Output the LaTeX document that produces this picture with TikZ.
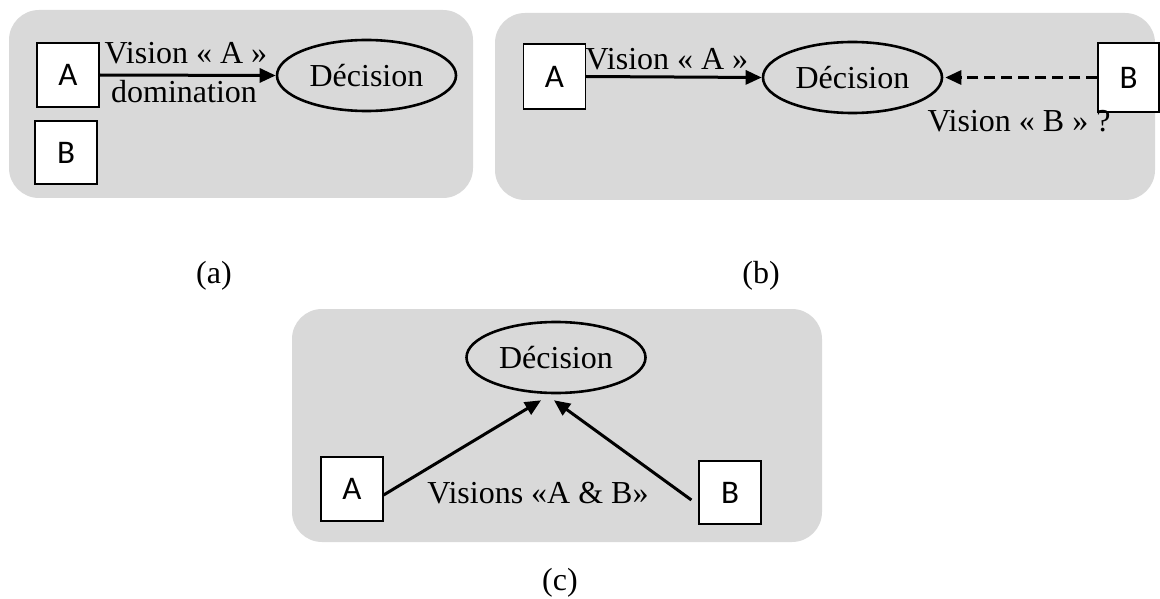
\documentclass[tikz,border=0pt]{standalone}
\usepackage{fontspec}
\setmainfont{Liberation Serif}
\newfontfamily\boxfont{Carlito}
\usetikzlibrary{shapes.geometric,arrows.meta,calc}
\definecolor{panelgray}{HTML}{D9D9D9}

\begin{document}
\begin{tikzpicture}[x=1pt,y=-1pt,
  panel/.style={fill=panelgray, draw=none, rounded corners=30pt},
  actor/.style={draw, fill=white, line width=1.2pt, minimum width=62pt,
    minimum height=64pt, inner sep=0pt, font=\boxfont\fontsize{33}{38}\selectfont},
  decision/.style={ellipse, draw, line width=2.6pt, minimum width=179pt,
    minimum height=71pt, inner sep=0pt, font=\fontsize{32}{38}\selectfont},
  flow/.style={line width=3pt, -{Triangle[length=16pt,width=14pt]}},
  maybe/.style={flow, dash pattern=on 11pt off 6pt},
  vision/.style={font=\fontsize{32}{38}\selectfont, inner sep=0pt, anchor=base},
]
\useasboundingbox (0,0) rectangle (1160,599);

% background panels
\fill[panel] (9,10) rectangle (473,198);
\fill[panel] (495,13) rectangle (1155,200);
\fill[panel] (292,309) rectangle (822,542);

% (a) A dominates the decision
\node[actor] (Aa) at (68,75) {A};
\node[actor, minimum height=63pt] (Ba) at (66,152.5) {B};
\node[decision] (Da) at (366.5,75.5) {Décision};
\draw[flow] (Aa.east) -- (Da.west);
\node[vision] (la1) at (186,64) {Vision « A »};
\node[vision] (la2) at (184,103) {domination};

% (b) B's view is questioned
\node[actor, minimum height=65pt] (Ab) at (554.5,76.5) {A};
\node[actor, minimum width=61pt, minimum height=69pt] (Bb) at (1128.5,77.5) {B};
\node[decision] (Db) at (852.5,77.5) {Décision};
\draw[flow] (Ab.east) -- (Db.west);
\draw[maybe] (Bb.west) -- ($(Db.east)+(2,0)$);
\node[vision] (lb1) at (667,70) {Vision « A »};
\node[vision] (lb2) at (1019,132) {Vision « B » ?};

% (c) both views feed the decision
\node[decision] (Dc) at (556,357.5) {Décision};
\node[actor] (Ac) at (352,489) {A};
\node[actor, minimum height=63pt] (Bc) at (730,492.5) {B};
\draw[flow] ($(Ac.east)+(0,6)$) -- ($(Dc.south)+(-15,6)$);
\draw[flow] ($(Bc.west)+(-7,7.5)$) -- ($(Dc.south)+(-2,6)$);
\node[vision] (lc) at (538,503) {Visions «A \& B»};

% captions
\node[vision] (capa) at (214,283) {(a)};
\node[vision] (capb) at (761,283) {(b)};
\node[vision] (capc) at (560,590) {(c)};
\end{tikzpicture}
\end{document}
